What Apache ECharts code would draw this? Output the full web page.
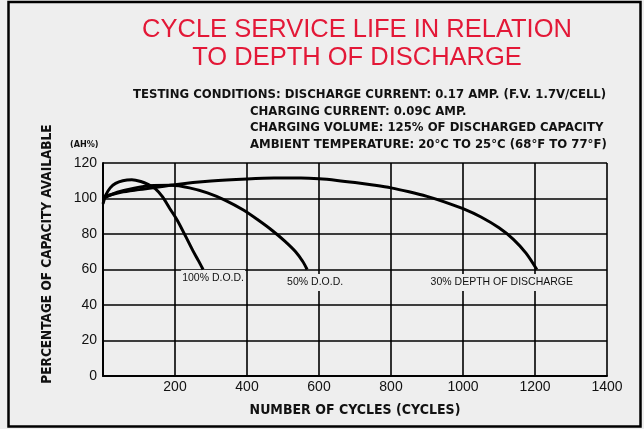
<!DOCTYPE html>
<html>
<head>
<meta charset="utf-8">
<script src="https://cdn.jsdelivr.net/npm/echarts@6/dist/echarts.min.js"></script>
<style>
  html, body { margin: 0; padding: 0; background: #eeeeee; }
  #chart { width: 644px; height: 429px; }
</style>
</head>
<body>
<div id="chart"></div>
<script>
// 数据 (cycles, capacity %)
var dod100 = [[0, 97], [8, 102], [20, 106], [35, 108.5], [55, 110], [80, 110.5], [105, 109.6], [125, 108],
  [145, 105.5], [165, 101], [185, 94.5], [207, 87.5], [230, 78.5], [250, 70.5], [265, 65], [278, 60]];
var dod50 = [[0, 100], [40, 103.5], [90, 106], [140, 107.3], [190, 107.4], [240, 106], [290, 103.2],
  [340, 99], [390, 93.5], [430, 88], [470, 82], [505, 76], [535, 70], [555, 64.5], [567, 60]];
var dod30 = [[0, 101], [50, 103.5], [100, 105], [200, 107.8], [300, 109.8], [400, 111], [475, 111.5],
  [550, 111.5], [600, 111.1], [650, 110.2], [700, 109], [750, 107.6], [800, 106], [850, 103.8],
  [900, 101.2], [950, 98], [1000, 94.3], [1050, 89.6], [1100, 83.5], [1140, 77], [1175, 69.2], [1205, 60]];
var curveNames = ['100% D.O.D.', '50% D.O.D.', '30% DEPTH OF DISCHARGE'];
var xTicks = [0, 200, 400, 600, 800, 1000, 1200, 1400];
var yTicks = [0, 20, 40, 60, 80, 100, 120];
var titleLines = ['CYCLE SERVICE LIFE IN RELATION', 'TO DEPTH OF DISCHARGE'];
var conditions = [
  'TESTING CONDITIONS: DISCHARGE CURRENT: 0.17 AMP. (F.V. 1.7V/CELL)',
  'CHARGING CURRENT: 0.09C AMP.',
  'CHARGING VOLUME: 125% OF DISCHARGED CAPACITY',
  'AMBIENT TEMPERATURE: 20°C TO 25°C (68°F TO 77°F)'
];

var narrow = "'Liberation Sans Narrow', 'DejaVu Sans Condensed', sans-serif";
var plain = "'Liberation Sans', Arial, sans-serif";

var myChart = echarts.init(document.getElementById('chart'));

// 曲线末端标签偏移
var labelOffsets = [[10, 9], [8, 13], [-35, 13]];

function curve(data, i) {
  var last = data[data.length - 1];
  return {
    name: curveNames[i],
    type: 'line',
    data: data,
    smooth: 0.3,
    showSymbol: false,
    lineStyle: { color: '#000', width: 3 },
    z: 5,
    markPoint: {
      symbol: 'circle',
      symbolSize: 0,
      data: [{ coord: last, value: curveNames[i] }],
      label: {
        show: true,
        formatter: curveNames[i],
        offset: labelOffsets[i],
        color: '#111',
        fontFamily: plain,
        fontSize: 10.5,
        backgroundColor: '#eeeeee',
        padding: [3, 1]
      }
    }
  };
}

var graphics = [{
  type: 'rect',
  shape: { x: 8.5, y: 2, width: 632, height: 424.5 },
  style: { fill: null, stroke: '#000', lineWidth: 2.5 },
  silent: true
}, {
  type: 'text',
  left: 70, top: 140,
  style: { text: '(AH%)', font: 'bold 9px ' + narrow, fill: '#111' }
}, {
  // y 轴标题
  type: 'text',
  x: 47, y: 254,
  rotation: Math.PI / 2,
  style: {
    text: 'PERCENTAGE OF CAPACITY AVAILABLE',
    font: 'bold 13.5px ' + narrow,
    fill: '#111',
    align: 'center',
    verticalAlign: 'middle'
  }
}];
conditions.forEach(function (t, i) {
  graphics.push({
    type: 'text',
    left: i === 0 ? 133 : 250,
    top: 88.5 + i * 16.4,
    style: { text: t, font: 'bold 13px ' + narrow, fill: '#111' }
  });
});

myChart.setOption({
  backgroundColor: '#eeeeee',
  animation: false,
  title: {
    text: titleLines.join('\n'),
    left: 352,
    top: 11,
    textAlign: 'center',
    textStyle: {
      color: '#e31837',
      fontFamily: plain,
      fontWeight: 'normal',
      fontSize: 25.5,
      lineHeight: 28
    }
  },
  grid: { left: 103, top: 163, right: 37, bottom: 53 },
  xAxis: {
    type: 'value',
    min: xTicks[0],
    max: xTicks[xTicks.length - 1],
    interval: 200,
    name: 'NUMBER OF CYCLES (CYCLES)',
    nameLocation: 'middle',
    nameGap: 27,
    nameTextStyle: { fontFamily: narrow, fontWeight: 'bold', fontSize: 14, color: '#111' },
    axisLine: { lineStyle: { color: '#000', width: 2 } },
    axisTick: { show: false },
    axisLabel: {
      margin: 4,
      color: '#111',
      fontFamily: plain,
      fontSize: 14,
      formatter: function (v) { return v === 0 ? '' : v; }
    },
    splitLine: { lineStyle: { color: '#000', width: 1.6 } }
  },
  yAxis: {
    type: 'value',
    min: yTicks[0],
    max: yTicks[yTicks.length - 1],
    interval: 20,
    axisLine: { show: true, lineStyle: { color: '#000', width: 2 } },
    axisTick: { show: false },
    axisLabel: { margin: 6, color: '#111', fontFamily: plain, fontSize: 14 },
    splitLine: { lineStyle: { color: '#000', width: 1.6 } }
  },
  graphic: graphics,
  series: [curve(dod100, 0), curve(dod50, 1), curve(dod30, 2)]
});
</script>
</body>
</html>
